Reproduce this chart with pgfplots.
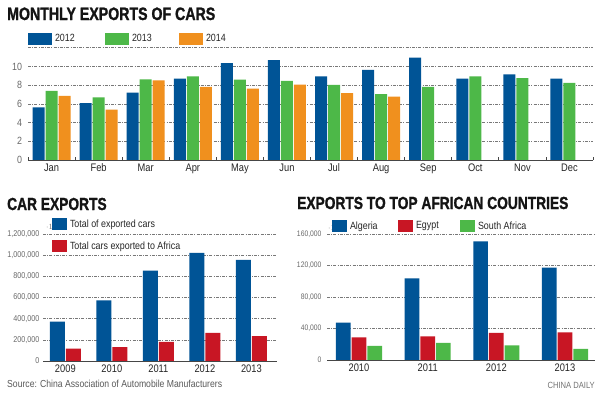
\documentclass[border=0pt]{standalone}
\usepackage{fontspec}
\setmainfont{Liberation Sans}[FakeStretch=0.85]
\newfontfamily\titlefont{Liberation Sans}[FakeStretch=0.79, BoldFeatures={FakeBold=1.2}]
\usepackage{pgfplots}
\pgfplotsset{compat=1.18}
\definecolor{cblue}{RGB}{0,84,150}
\definecolor{cgreen}{RGB}{77,184,72}
\definecolor{corange}{RGB}{240,144,30}
\definecolor{cred}{RGB}{200,22,36}
\definecolor{ticktxt}{RGB}{105,105,105}
\definecolor{basecol}{RGB}{70,70,70}
\definecolor{gridcol}{RGB}{120,120,120}
\pgfplotsset{
  common/.style={
    scale only axis,
    anchor=south west,
    /pgf/number format/assume math mode=true,
    axis x line*=bottom,
    axis y line*=left,
    y axis line style={draw=none},
    x axis line style={draw=basecol, line width=0.9bp},
    major tick length=0pt,
    ymajorgrids,
    grid style={gridcol, line width=0.5bp, dash pattern=on 3bp off 1.2bp on 1bp off 1.2bp},
    ymin=0,
    xtick style={draw=none},
    yticklabel style={text=ticktxt},
    xticklabel style={text=black!85},
    legend style={draw=none, fill=none, inner sep=0pt, outer sep=0pt,
      nodes={inner sep=0pt, text=black!85}},
  },
  topleg/.style={legend image code/.code={\fill[##1] (0,-6bp) rectangle (24bp,6bp);}},
  botleg/.style={legend image code/.code={\fill[##1] (0,-6bp) rectangle (15bp,6bp);}},
}
\begin{document}
\begin{tikzpicture}[x=1bp,y=1bp]
\fill[white] (0,0) rectangle (600,393);
\node[anchor=base west, inner sep=0pt, text=black!92] at (7,373) {\titlefont\bfseries\fontsize{18}{20}\selectfont MONTHLY EXPORTS OF CARS};
\node[anchor=base west, inner sep=0pt, text=black!92] at (7,183) {\titlefont\bfseries\fontsize{17.5}{20}\selectfont CAR EXPORTS};
\node[anchor=base west, inner sep=0pt, text=black!92] at (297,184) {\titlefont\bfseries\fontsize{17.5}{20}\selectfont EXPORTS TO TOP AFRICAN COUNTRIES};
\node[anchor=base west, inner sep=0pt, text=black!65] at (7,6) {\fontsize{10.2}{12}\selectfont Source: China Association of Automobile Manufacturers};
\node[anchor=base east, inner sep=0pt, text=black!55] at (595,5) {\fontsize{9}{11}\selectfont CHINA DAILY};

% ---------- top chart
\begin{axis}[common,
  at={(28bp,233bp)}, width=565bp, height=112.3bp,
  ymax=12, xmin=-0.5, xmax=11.5,
  ybar=1bp, bar width=12bp,
  ytick={0,2,...,12}, yticklabels={0,2,4,6,8,10,},
  yticklabel style={font=\fontsize{10.5}{12}\selectfont, xshift=-2.5bp},
  xtick={0,...,11},
  xticklabels={Jan,Feb,Mar,Apr,May,Jun,Jul,Aug,Sep,Oct,Nov,Dec},
  xticklabel style={font=\fontsize{11}{12}\selectfont},
  extra x ticks={-0.5,0.5,...,11.5}, extra x tick labels={},
  extra x tick style={major tick length=3bp, tick align=inside, xtick style={draw=basecol, line width=0.8bp}},
  legend columns=3,
  legend style={at={(0,1)}, anchor=west, yshift=8.7bp,
    font=\fontsize{10.5}{12}\selectfont,
    /tikz/every odd column/.append style={column sep=3bp}},
]
\addplot[fill=cblue, draw=none, topleg] coordinates {
(0,5.63) (1,6.09) (2,7.21) (3,8.69) (4,10.35) (5,10.67) (6,8.94) (7,9.64) (8,10.95) (9,8.69) (10,9.15) (11,8.69)};
\addlegendentry{\makebox[50bp][l]{2012}}
\addplot[fill=cgreen, draw=none, topleg] coordinates {
(0,7.39) (1,6.69) (2,8.62) (3,8.94) (4,8.59) (5,8.45) (6,8.03) (7,7.04) (8,7.81) (9,8.94) (10,8.76) (11,8.24)};
\addlegendentry{\makebox[47bp][l]{2013}}
\addplot[fill=corange, draw=none, topleg] coordinates {
(0,6.86) (1,5.39) (2,8.50) (3,7.81) (4,7.64) (5,8.06) (6,7.15) (7,6.76)};
\addlegendentry{2014}
\end{axis}

% ---------- bottom left
\begin{axis}[common,
  at={(43bp,32bp)}, width=234bp, height=127bp,
  ymax=1200000, xmin=-0.48, xmax=4.55,
  ybar=1bp, bar width=15bp,
  ytick={0,200000,400000,600000,800000,1000000,1200000},
  yticklabels={0,{200,000},{400,000},{600,000},{800,000},{1,000,000},{1,200,000}},
  yticklabel style={font=\fontsize{8.5}{10}\selectfont},
  xtick={0,...,4}, xticklabels={2009,2010,2011,2012,2013},
  xticklabel style={font=\fontsize{11}{12}\selectfont},
  legend cell align=left,
  legend style={at={(0.0385,1)}, anchor=north west, yshift=16bp,
    font=\fontsize{10.5}{12}\selectfont, row sep=10bp,
    /tikz/every odd column/.append style={column sep=3bp}},
]
\addplot[fill=cblue, draw=none, botleg] coordinates {
(0,371000) (1,573000) (2,853000) (3,1021000) (4,955000)};
\addlegendentry{Total of exported cars}
\addplot[fill=cred, draw=none, botleg] coordinates {
(0,116000) (1,132000) (2,180000) (3,265000) (4,236000)};
\addlegendentry{Total cars exported to Africa}
\end{axis}

% ---------- bottom right
\begin{axis}[common,
  at={(327bp,33bp)}, width=268bp, height=126bp,
  ymax=160000, xmin=-0.466, xmax=3.437,
  ybar=1bp, bar width=14.7bp,
  ytick={0,40000,80000,120000,160000},
  yticklabels={0,{40,000},{80,000},{120,000},{160,000}},
  yticklabel style={font=\fontsize{8}{10}\selectfont, xshift=-2bp},
  xtick={0,...,3}, xticklabels={2010,2011,2012,2013},
  xticklabel style={font=\fontsize{11}{12}\selectfont},
  legend columns=3,
  legend style={at={(0.0187,1)}, anchor=west, yshift=8bp,
    font=\fontsize{10.5}{12}\selectfont,
    /tikz/every odd column/.append style={column sep=3bp}},
]
\addplot[fill=cblue, draw=none, botleg] coordinates {
(0,47400) (1,103700) (2,150700) (3,117200)};
\addlegendentry{\makebox[48bp][l]{Algeria}}
\addplot[fill=cred, draw=none, botleg] coordinates {
(0,28800) (1,30100) (2,34300) (3,35200)};
\addlegendentry{\makebox[44bp][l]{Egypt}}
\addplot[fill=cgreen, draw=none, botleg] coordinates {
(0,17800) (1,21600) (2,18600) (3,14000)};
\addlegendentry{South Africa}
\end{axis}
\pgfresetboundingbox
\useasboundingbox (0bp,0bp) rectangle (600bp,393bp);
\end{tikzpicture}
\end{document}
